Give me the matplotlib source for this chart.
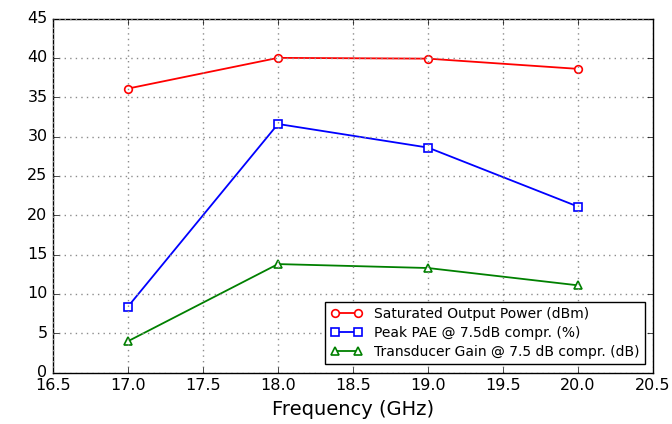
import matplotlib
matplotlib.use("Agg")
import matplotlib.pyplot as plt

plt.style.use("classic")

freq = [17.0, 18.0, 19.0, 20.0]
psat = [36.1, 40.0, 39.9, 38.6]
pae = [8.4, 31.6, 28.6, 21.1]
gain = [4.0, 13.8, 13.3, 11.1]

fig = plt.figure(figsize=(6.72, 4.24), dpi=100)
fig.patch.set_facecolor("white")
ax = fig.add_axes([53/672, 1-372.7/424, 600/672, (372.7-18.5)/424])

kw = dict(mfc="white", mew=1.2, ms=5.5, lw=1.3)
ax.plot(freq, psat, "r-o", mec="r", label="Saturated Output Power (dBm)", **kw)
ax.plot(freq, pae, "b-s", mec="b", label="Peak PAE @ 7.5dB compr. (%)", **kw)
ax.plot(freq, gain, "g-^", mec="g", label="Transducer Gain @ 7.5 dB compr. (dB)", **kw)

ax.set_xlim(16.5, 20.5)
ax.set_ylim(0, 45)
ax.set_xticks([16.5, 17.0, 17.5, 18.0, 18.5, 19.0, 19.5, 20.0, 20.5])
ax.set_xticklabels(["16.5", "17.0", "17.5", "18.0", "18.5", "19.0", "19.5", "20.0", "20.5"])
ax.set_yticks(range(0, 50, 5))
ax.tick_params(labelsize=11.5)
ax.grid(True, color="0.55", linestyle=":", linewidth=1)
ax.set_xlabel("Frequency (GHz)", fontsize=14)
ax.legend(loc="lower right", fontsize=10, numpoints=2, handlelength=2.3,
          borderaxespad=0.6, labelspacing=0.35)

fig.savefig("out.png", dpi=100, facecolor="white")
